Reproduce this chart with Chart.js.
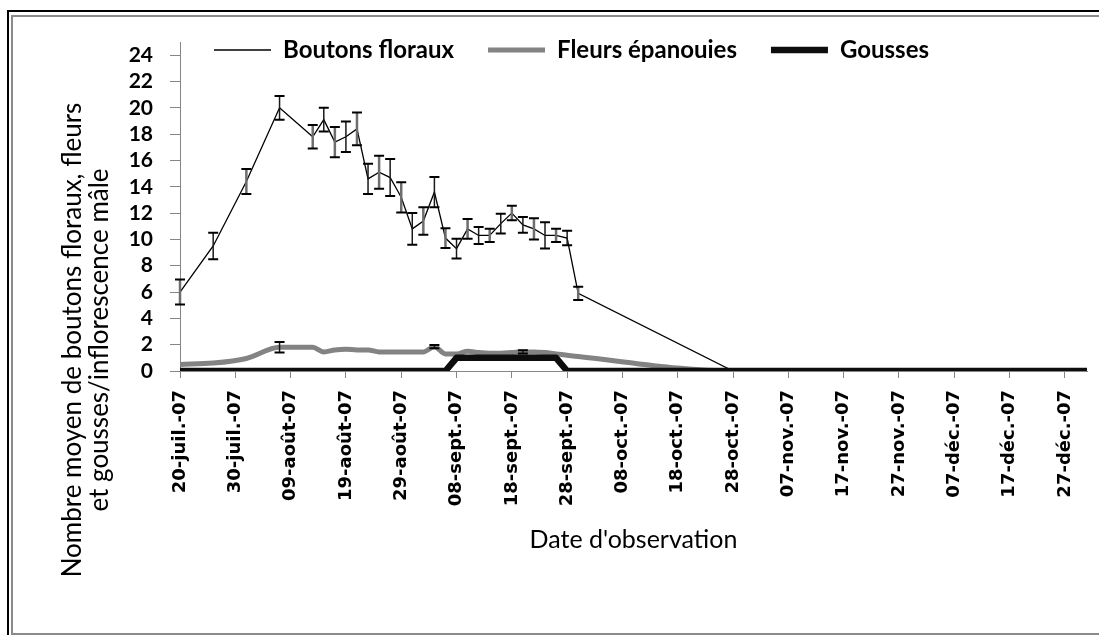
<!DOCTYPE html>
<html>
<head>
<meta charset="utf-8">
<script src="https://cdn.jsdelivr.net/npm/chart.js@4.4.1/dist/chart.umd.min.js"></script>
<style>
  html, body { margin: 0; padding: 0; background: #ffffff; }
  #wrap { position: relative; width: 1099px; height: 635px; }
</style>
</head>
<body>
<div id="wrap"><canvas id="c" width="1099" height="635"></canvas></div>
<script>
// ---- DATA ----
const startDate = '2007-07-20';
const obsDates = ['2007-07-20','2007-07-26','2007-08-01','2007-08-07','2007-08-13','2007-08-15','2007-08-17','2007-08-19','2007-08-21','2007-08-23','2007-08-25','2007-08-27','2007-08-29','2007-08-31','2007-09-02','2007-09-04','2007-09-06','2007-09-08','2007-09-10','2007-09-12','2007-09-14','2007-09-16','2007-09-18','2007-09-20','2007-09-22','2007-09-24','2007-09-26','2007-09-28','2007-09-30','2007-10-28','2007-12-31'];
const boutons = [6.0, 9.5, 14.4, 20.0, 17.8, 19.1, 17.4, 17.8, 18.4, 14.6, 15.1, 14.7, 13.2, 10.8, 11.4, 13.6, 10.1, 9.3, 10.8, 10.3, 10.3, 11.2, 12.0, 11.1, 10.8, 10.3, 10.3, 10.1, 5.9, 0, 0];
const boutonsErr = [0.95, 1.0, 0.95, 0.9, 0.9, 0.9, 1.15, 1.15, 1.25, 1.15, 1.25, 1.4, 1.15, 1.2, 1.05, 1.15, 0.75, 0.75, 0.75, 0.65, 0.5, 0.75, 0.55, 0.6, 0.8, 1.0, 0.5, 0.55, 0.5, 0, 0];
const fleurs = [0.5, 0.6, 0.95, 1.8, 1.8, 1.45, 1.6, 1.65, 1.6, 1.6, 1.45, 1.45, 1.45, 1.45, 1.45, 1.85, 1.3, 1.3, 1.5, 1.4, 1.35, 1.35, 1.4, 1.45, 1.45, 1.4, 1.3, 1.2, 1.1, 0, 0];
const fleursErr = [0, 0, 0, 0.4, 0, 0, 0, 0, 0, 0, 0, 0, 0, 0, 0, 0.12, 0, 0, 0, 0, 0, 0, 0, 0.12, 0, 0, 0, 0, 0, 0, 0];
const gousses = [0, 0, 0, 0, 0, 0, 0, 0, 0, 0, 0, 0, 0, 0, 0, 0, 0, 1.0, 1.0, 1.0, 1.0, 1.0, 1.0, 1.0, 1.0, 1.0, 1.0, 0, 0, 0, 0];
const seriesNames = ['Boutons floraux', 'Fleurs épanouies', 'Gousses'];
const xTickLabels = ['20-juil.-07','30-juil.-07','09-août-07','19-août-07','29-août-07','08-sept.-07','18-sept.-07','28-sept.-07','08-oct.-07','18-oct.-07','28-oct.-07','07-nov.-07','17-nov.-07','27-nov.-07','07-déc.-07','17-déc.-07','27-déc.-07'];
const yTitleLines = ['Nombre moyen de boutons floraux, fleurs', 'et gousses/inflorescence mâle'];
const xTitle = "Date d'observation";

// ---- helpers ----
const DAY = 86400000;
const t0 = Date.parse(startDate);
const days = obsDates.map(d => (Date.parse(d) - t0) / DAY);
const pts = arr => arr.map((v, i) => ({x: days[i], y: v}));
const errs = [boutonsErr, fleursErr, null];

const framePlugin = {
  id: 'frame',
  afterInit(chart) {
    if (chart.legend) chart.legend.isHorizontal = () => true;
  },
  beforeDraw(chart) {
    const ctx = chart.ctx;
    ctx.save();
    ctx.fillStyle = '#ffffff';
    ctx.fillRect(0, 0, chart.width, chart.height);
    ctx.fillStyle = '#000000';
    ctx.fillRect(7, 10, 2, 625);
    ctx.fillRect(7, 10, 1092, 2);
    ctx.fillStyle = '#8a8a8a';
    ctx.fillRect(11, 15, 2, 620);
    ctx.fillRect(11, 15, 1088, 2);
    ctx.fillRect(11, 633, 1088, 2);
    ctx.restore();
  },
  afterLayout(chart) {
    const lg = chart.legend;
    if (lg) {
      lg.left = 180;
      lg.right = 1090;
      lg.width = lg.right - lg.left;
      lg.top = 50 - 34 - 12;
    }
  },
  afterDraw(chart) {
    const ctx = chart.ctx;
    ctx.save();
    ctx.fillStyle = '#000000';
    ctx.font = '26px Lato';
    ctx.textAlign = 'center';
    ctx.textBaseline = 'middle';
    const xs = [73, 100];
    yTitleLines.forEach((line, i) => {
      ctx.save();
      ctx.translate(xs[i], 340);
      ctx.rotate(-Math.PI / 2);
      ctx.fillText(line, 0, 0);
      ctx.restore();
    });
    ctx.restore();
  },
  afterDatasetDraw(chart, args) {
    const e = errs[args.index];
    if (!e) return;
    const ctx = chart.ctx;
    const xs = chart.scales.x, ys = chart.scales.y;
    const vals = chart.data.datasets[args.index].data;
    ctx.save();
    e.forEach((err, i) => {
      if (!err) return;
      const px = xs.getPixelForValue(vals[i].x);
      const yTop = ys.getPixelForValue(vals[i].y + err);
      const yBot = ys.getPixelForValue(vals[i].y - err);
      ctx.strokeStyle = (i % 2 === 0) ? '#6e6e6e' : '#1a1a1a';
      ctx.lineWidth = (i % 2 === 0) ? 2.5 : 1.5;
      ctx.beginPath();
      ctx.moveTo(px, yTop); ctx.lineTo(px, yBot);
      ctx.stroke();
      ctx.strokeStyle = '#000000';
      ctx.lineWidth = 2;
      ctx.beginPath();
      ctx.moveTo(px - 5, yTop); ctx.lineTo(px + 5, yTop);
      ctx.moveTo(px - 5, yBot); ctx.lineTo(px + 5, yBot);
      ctx.stroke();
    });
    ctx.restore();
  }
};

new Chart(document.getElementById('c'), {
  type: 'line',
  data: {
    datasets: [
      { label: seriesNames[0], data: pts(boutons), borderColor: '#000000', backgroundColor: '#000000', borderWidth: 1.3, pointRadius: 0, tension: 0, order: 1 },
      { label: seriesNames[1], data: pts(fleurs), borderColor: '#838383', backgroundColor: '#838383', borderWidth: 5, pointRadius: 0, tension: 0.3, cubicInterpolationMode: 'monotone', borderJoinStyle: 'round', borderCapStyle: 'round', order: 2 },
      { label: seriesNames[2], data: pts(gousses), borderColor: '#0d0d0d', backgroundColor: '#0d0d0d', borderWidth: 6.5, pointRadius: 0, tension: 0, borderJoinStyle: 'round', borderCapStyle: 'round', order: 0 }
    ]
  },
  options: {
    responsive: false,
    animation: false,
    layout: { padding: { left: 0, right: 12, top: 42, bottom: 0 } },
    plugins: {
      tooltip: { enabled: false },
      legend: {
        position: 'chartArea',
        align: 'start',
        labels: {
          usePointStyle: true,
          pointStyle: 'line',
          pointStyleWidth: 57,
          padding: 34,
          color: '#000000',
          font: { family: 'Lato', size: 24, weight: 'bold' },
          sort: (a, b) => a.datasetIndex - b.datasetIndex
        }
      }
    },
    scales: {
      x: {
        type: 'linear',
        min: 0,
        max: 164,
        afterFit(scale) { scale.height = 264; },
        border: { color: '#868686', width: 1 },
        grid: { drawOnChartArea: false, drawTicks: true, tickLength: 7, color: '#868686' },
        ticks: {
          stepSize: 10,
          includeBounds: false,
          autoSkip: false,
          maxRotation: 90,
          minRotation: 90,
          padding: 12,
          color: '#000000',
          font: { family: 'DejaVu Sans', size: 18, weight: 'bold' },
          callback: (v, i) => xTickLabels[i]
        },
        title: {
          display: true,
          text: xTitle,
          color: '#000000',
          font: { family: 'Lato', size: 25 },
          padding: { top: 0, bottom: 80 }
        }
      },
      y: {
        min: 0,
        max: 25,
        afterFit(scale) { scale.width = 180; },
        border: { color: '#868686', width: 1 },
        grid: { drawOnChartArea: false, drawTicks: true, tickLength: 10, color: '#868686' },
        ticks: {
          stepSize: 2,
          includeBounds: false,
          autoSkip: false,
          padding: 17,
          color: '#000000',
          font: { family: 'Lato', size: 21, weight: 'bold' }
        }
      }
    }
  },
  plugins: [framePlugin]
});
</script>
</body>
</html>
